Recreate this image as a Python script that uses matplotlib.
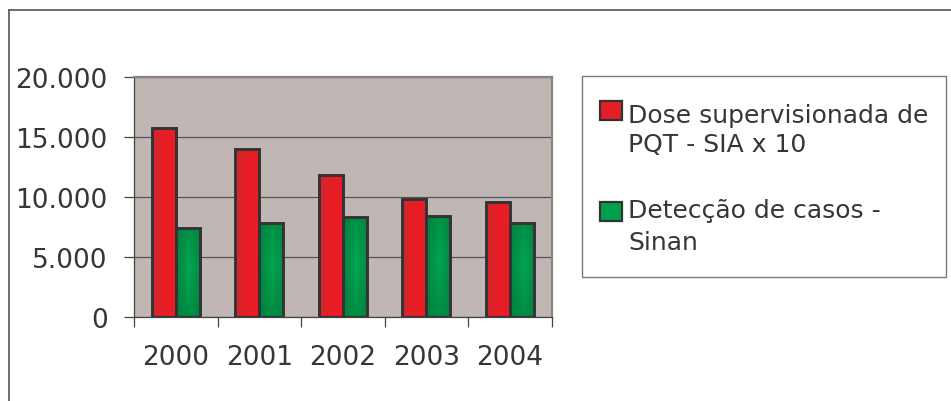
import numpy as np
import matplotlib
matplotlib.use('Agg')
import matplotlib.pyplot as plt
from matplotlib.patches import Rectangle
from matplotlib.lines import Line2D
from matplotlib.ticker import FuncFormatter, FixedLocator

# data
years = ['2000', '2001', '2002', '2003', '2004']
dose_pqt = [15700, 14000, 11800, 9800, 9600]      # dose supervisionada de PQT - SIA x 10
deteccao = [7400, 7800, 8300, 8400, 7800]        # deteccao de casos - Sinan
legend_labels = [['Dose supervisionada de', 'PQT - SIA x 10'],
                 ['Detecção de casos -', 'Sinan']]

W, H = 951, 402
FS = 19
TXT = '#363636'
plt.rcParams['font.family'] = ['DejaVu Sans']

def fx(px):
    return px / W

def fy(py):
    return 1 - py / H

fig = plt.figure(figsize=(W / 100, H / 100), dpi=100)
ax = fig.add_axes([fx(134), fy(317.5), fx(551.5) - fx(134), fy(78) - fy(317.5)])
ax.set_facecolor('#c0b7b4')

x = np.arange(len(years))
bw = 0.29
red_bars = ax.bar(x - bw / 2, dose_pqt, bw, color='#e31e24', linewidth=0, zorder=2)
green_bars = ax.bar(x + bw / 2, deteccao, bw, color='#00a04e', linewidth=0, zorder=2)

# shading inside the bars
t = np.linspace(0, 1, 64)
red_grad = np.clip(t / 0.45, 0, 1)[None, :].repeat(2, axis=0)
red_cmap = matplotlib.colors.LinearSegmentedColormap.from_list('r', ['#c92a30', '#e81d25'])
gx = 1 - np.abs(t - 0.55) * 1.6
gy = 1 - np.abs(t - 0.55) * 1.2
green_grad = np.clip(np.outer(gy, gx), 0, 1)
green_cmap = matplotlib.colors.LinearSegmentedColormap.from_list('g', ['#00803e', '#00a651'])
for bars, grad, cmap in [(red_bars, red_grad, red_cmap), (green_bars, green_grad, green_cmap)]:
    for b in bars:
        x0, w, h = b.get_x(), b.get_width(), b.get_height()
        im = ax.imshow(grad, cmap=cmap, extent=[x0, x0 + w, 0, h], origin='lower',
                       aspect='auto', interpolation='bilinear', zorder=2.1, vmin=0, vmax=1)
        im.set_clip_path(b)
ax.bar(x - bw / 2, dose_pqt, bw, fill=False, edgecolor='#333333', linewidth=2.1, zorder=3)
ax.bar(x + bw / 2, deteccao, bw, fill=False, edgecolor='#333333', linewidth=2.1, zorder=3)

ax.set_xlim(-0.5, len(years) - 0.5)
ax.set_ylim(0, 20000)
ax.set_aspect('auto')

ax.yaxis.grid(True, color='#555555', linewidth=0.9, zorder=1)
ax.set_axisbelow(True)
ax.set_yticks([0, 5000, 10000, 15000, 20000])
ax.yaxis.set_major_formatter(FuncFormatter(lambda v, p: f'{int(v):,}'.replace(',', '.')))
ax.tick_params(axis='y', length=7, width=0.9, color='#444444', pad=12,
               labelsize=FS, labelcolor=TXT)

# category boundaries carry the tick marks, labels sit at the centres
ax.xaxis.set_major_locator(FixedLocator(np.arange(-0.5, len(years), 1.0)))
ax.xaxis.set_minor_locator(FixedLocator(x))
ax.set_xticklabels([''] * (len(years) + 1))
ax.set_xticklabels(years, minor=True)
ax.tick_params(axis='x', which='major', length=7, width=0.9, color='#444444')
ax.tick_params(axis='x', which='minor', length=0, pad=20, labelsize=FS, labelcolor=TXT)

for s in ['left', 'bottom']:
    ax.spines[s].set_color('#444444')
    ax.spines[s].set_linewidth(0.9)
for s in ['top', 'right']:
    ax.spines[s].set_color('#8c8280')
    ax.spines[s].set_linewidth(1.6)

# outer frame lines
fig.add_artist(Line2D([fx(9), fx(9)], [fy(11), 0], color='#555555', lw=1.2))
fig.add_artist(Line2D([fx(9), 1], [fy(11), fy(11)], color='#555555', lw=1.2))

# legend box
fig.add_artist(Rectangle((fx(582), fy(278)), fx(946) - fx(582), fy(77) - fy(278),
                         transform=fig.transFigure, facecolor='white',
                         edgecolor='#777777', linewidth=1.0))
entries = [('#e31e24', 102, [123, 152]), ('#00a04e', 203, [218, 250])]
for (col, top, baselines), lines in zip(entries, legend_labels):
    fig.add_artist(Rectangle((fx(600), fy(top + 19)), fx(622) - fx(600), fy(top) - fy(top + 19),
                             transform=fig.transFigure, facecolor=col,
                             edgecolor='#333333', linewidth=1.6))
    for yb, line in zip(baselines, lines):
        fig.text(fx(628), fy(yb), line, fontsize=18, color=TXT, va='baseline', ha='left')

fig.savefig('out.png', dpi=100)
